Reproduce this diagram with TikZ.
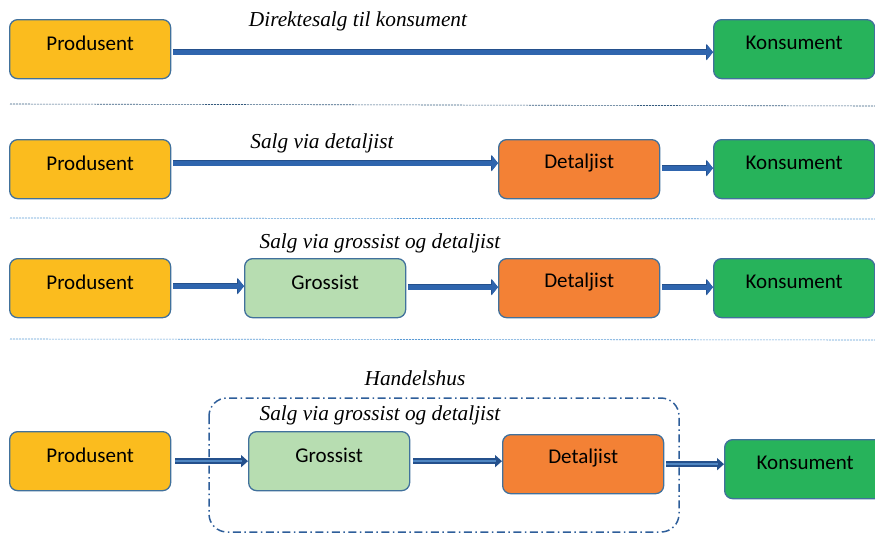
\documentclass[tikz,border=0pt]{standalone}
\usepackage{fontspec}
\setmainfont{Liberation Serif}
\setsansfont{Carlito}
\usetikzlibrary{arrows.meta}
\definecolor{yel}{HTML}{FBBC1E}
\definecolor{grn}{HTML}{27B35B}
\definecolor{org}{HTML}{F38135}
\definecolor{lgr}{HTML}{B7DDB1}
\definecolor{bord}{HTML}{41719C}
\definecolor{arr}{HTML}{2F65AE}
\definecolor{arrdark}{HTML}{24508C}
\definecolor{arrlight}{HTML}{4F86C2}
\definecolor{sep}{HTML}{5B9BD5}
\definecolor{hbox}{HTML}{2E5E9A}
\begin{document}
\begin{tikzpicture}[x=1pt,y=-1pt,
  box/.style={draw=bord, line width=1.3pt, rounded corners=8pt, minimum width=161pt, minimum height=59pt, inner sep=0pt, anchor=north west},
  txt/.style={font=\sffamily\fontsize{21}{24}\selectfont, text=black},
  lab/.style={font=\itshape\fontsize{21.3}{24}\selectfont, text=black},
  flow/.style={draw=arr, line width=5pt, -{Triangle[length=6pt,width=15pt]},
     preaction={draw=arrdark, line width=6.5pt, -{Triangle[length=7pt,width=16pt]}}},
  flowl/.style={draw=arrlight, line width=2.5pt, shorten >=6pt,
     preaction={draw=arrdark, line width=5.5pt, shorten >=0pt, -{Triangle[length=7pt,width=12pt]}}},
  seprule/.style={draw=sep, line width=0.6pt, dash pattern=on 2pt off 1pt}
]
\useasboundingbox (0,0) rectangle (875,533);
% Row 1
\node[box, fill=yel, label={[txt,yshift=6pt]center:Produsent}] (p1) at (9,19) {};
\node[box, fill=grn, label={[txt,yshift=6pt]center:Konsument}] (k1) at (713,19) {};
\draw[flow] (p1.east) ++(2,3) coordinate (p1o) -- (p1o -| k1.west);
\node[lab] (l1) at (358,21) {Direktesalg til konsument};
\coordinate (s1a) at (10,104);
\coordinate (s1b) at (875,106);
\draw[seprule, draw=bord!80!black] (s1a) -- (s1b);
% Row 2
\node[box, fill=yel, label={[txt,yshift=6pt]center:Produsent}] (p2) at (9,139) {};
\node[box, fill=org, label={[txt,yshift=6pt]center:Detaljist}] (d2) at (498,139) {};
\node[box, fill=grn, label={[txt,yshift=6pt]center:Konsument}] (k2) at (713,139) {};
\draw[flow] (p2.east) ++(2,-6) coordinate (p2o) -- (p2o -| d2.west);
\draw[flow] (d2.east) ++(2,-1) coordinate (d2o) -- (d2o -| k2.west);
\node[lab] (l2) at (322,143) {Salg via detaljist};
\coordinate (s2a) at (10,218);
\coordinate (s2b) at (875,219);
\draw[seprule] (s2a) -- (s2b);
% Row 3
\node[box, fill=yel, label={[txt,yshift=6pt]center:Produsent}] (p3) at (9,258) {};
\node[box, fill=lgr, label={[txt,yshift=6pt]center:Grossist}] (g3) at (244,258) {};
\node[box, fill=org, label={[txt,yshift=6pt]center:Detaljist}] (d3) at (498,258) {};
\node[box, fill=grn, label={[txt,yshift=6pt]center:Konsument}] (k3) at (713,258) {};
\draw[flow] (p3.east) ++(2,-2) coordinate (p3o) -- (p3o -| g3.west);
\draw[flow] (g3.east) ++(2,-1) coordinate (g3o) -- (g3o -| d3.west);
\draw[flow] (d3.east) ++(2,-1) coordinate (d3o) -- (d3o -| k3.west);
\node[lab] (l3) at (380,243) {Salg via grossist og detaljist};
\coordinate (s3a) at (10,339);
\coordinate (s3b) at (875,340);
\draw[seprule] (s3a) -- (s3b);
% Row 4
\node[lab] (l4a) at (415,378) {Handelshus};
\coordinate (hb1) at (209,398);
\coordinate (hb2) at (679,532);
\draw[draw=hbox, line width=1.5pt, rounded corners=18pt, dash pattern=on 8pt off 3.5pt on 1.5pt off 3.5pt] (hb1) rectangle (hb2);
\node[lab] (l4b) at (380,415) {Salg via grossist og detaljist};
\node[box, fill=yel, label={[txt,yshift=6pt]center:Produsent}] (p4) at (9,431) {};
\node[box, fill=lgr, label={[txt,yshift=6pt]center:Grossist}] (g4) at (248,431) {};
\node[box, fill=org, label={[txt,yshift=6pt]center:Detaljist}] (d4) at (502,434) {};
\node[box, fill=grn, label={[txt,yshift=6pt]center:Konsument}] (k4) at (724,439) {};
\draw[flowl] (p4.east) ++(4,0) coordinate (p4o) -- (p4o -| g4.west);
\draw[flowl] (g4.east) ++(3,0) coordinate (g4o) -- (g4o -| d4.west);
\draw[flowl] (d4.east) ++(2,0) coordinate (d4o) -- (d4o -| k4.west);
\end{tikzpicture}
\end{document}
